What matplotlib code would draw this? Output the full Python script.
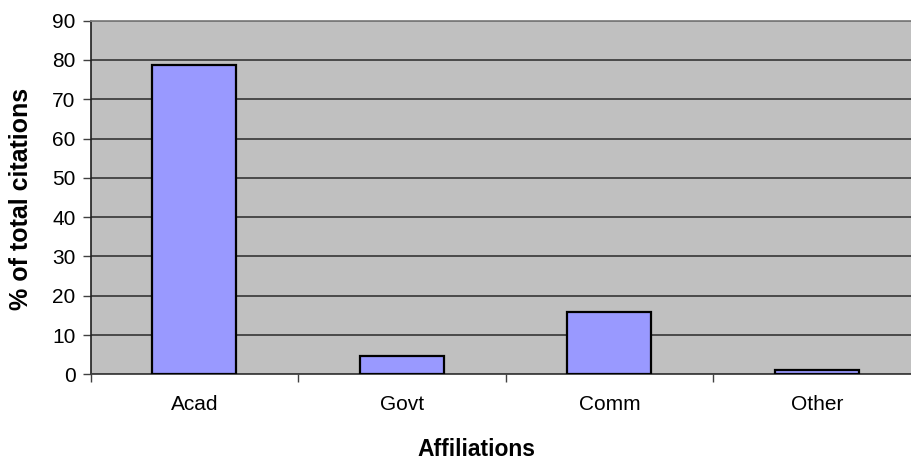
import matplotlib
matplotlib.use("Agg")
import matplotlib.pyplot as plt
import numpy as np

# Share of total citations by author affiliation
categories = ["Acad", "Govt", "Comm", "Other"]
pct_citations = [78.8, 4.6, 15.8, 1.1]
y_ticks = [0, 10, 20, 30, 40, 50, 60, 70, 80, 90]

plt.rcParams["font.family"] = ["Liberation Sans", "DejaVu Sans"]

W, H = 911, 463
fig = plt.figure(figsize=(W / 100, H / 100), dpi=100)
fig.patch.set_facecolor("white")

# plot area runs past the right edge of the chart
left, right, top, bottom = 90.7, 920.7, 20.7, 374.3
ax = fig.add_axes([left / W, 1 - bottom / H, (right - left) / W, (bottom - top) / H])
ax.set_facecolor("#C0C0C0")

x = np.arange(len(categories))
ax.bar(x, pct_citations, width=0.405, color="#9999FF", edgecolor="black",
       linewidth=1.6, zorder=3)

ax.set_xlim(-0.5, len(categories) - 0.5)
ax.set_ylim(0, 90)
ax.set_yticks(y_ticks)
ax.yaxis.grid(True, color="#404040", linewidth=1.3, zorder=1)
ax.set_axisbelow(True)

ax.set_xticks(x)
ax.set_xticklabels(categories)
ax.set_xticks(np.arange(-0.5, len(categories) + 0.5, 1.0), minor=True)
ax.tick_params(axis="x", which="major", length=0, pad=15, labelsize=15)
ax.tick_params(axis="x", which="minor", length=6, width=1, color="#404040")
ax.tick_params(axis="y", length=6, width=1, color="#404040", pad=5, labelsize=15)

ax.spines["right"].set_visible(False)
ax.spines["top"].set_color("#808080")
ax.spines["top"].set_linewidth(1.3)
ax.spines["left"].set_color("#202020")
ax.spines["left"].set_linewidth(1.2)
ax.spines["bottom"].set_color("#404040")
ax.spines["bottom"].set_linewidth(1.3)

fig.text(476.5 / W, 1 - 449 / H, "Affiliations", ha="center", va="center",
         fontsize=16.5, fontweight="bold")
fig.text(21 / W, 1 - 199 / H, "% of total citations", ha="center", va="center",
         rotation=90, fontsize=18, fontweight="bold")

fig.savefig("out.png", dpi=100)
